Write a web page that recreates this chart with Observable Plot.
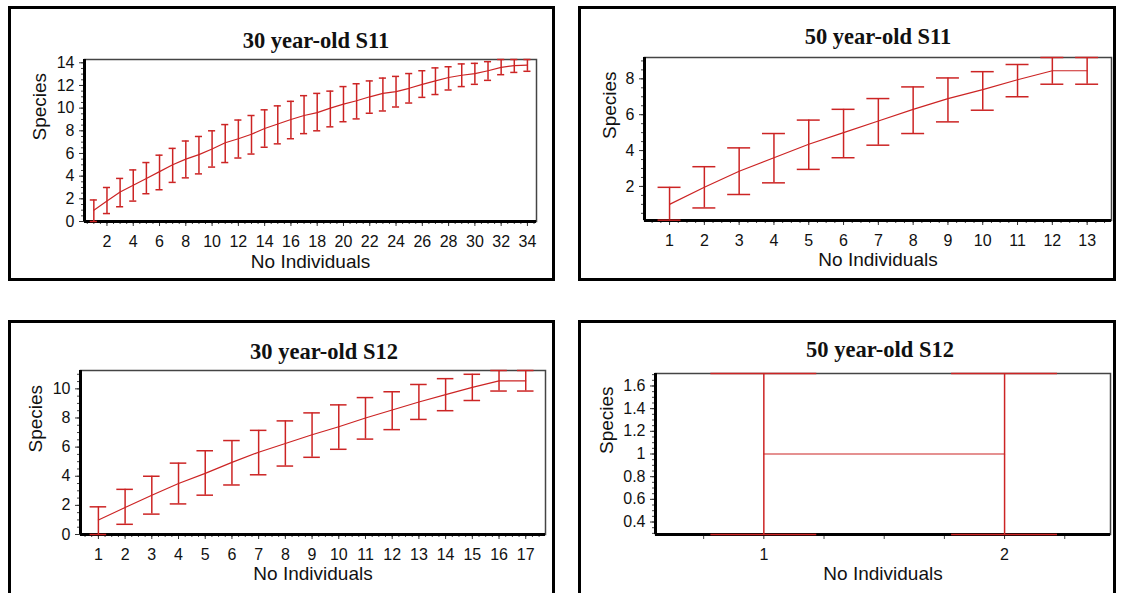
<!DOCTYPE html>
<html>
<head>
<meta charset="utf-8">
<script src="https://cdn.jsdelivr.net/npm/d3@7"></script>
<script src="https://cdn.jsdelivr.net/npm/@observablehq/plot@0.6"></script>
<style>
  html, body { margin: 0; padding: 0; background: #fff; }
  body { width: 1124px; height: 593px; overflow: hidden; position: relative; }
  .box { position: absolute; border: 3px solid #000; box-sizing: border-box; pointer-events: none; }
  .title { position: absolute; font-family: "Liberation Serif", "Times New Roman", serif; font-weight: bold;
           font-size: 22.5px; line-height: 1; color: #111; transform: translate(-50%, -50%); white-space: nowrap; }
  .plot { position: absolute; }
</style>
</head>
<body>
<script>
// ---------------- DATA ----------------
// Panel A: 30 year-old S11
const titleA = "30 year-old S11";
const nA = [1,2,3,4,5,6,7,8,9,10,11,12,13,14,15,16,17,18,19,20,21,22,23,24,25,26,27,28,29,30,31,32,33,34];
const meanA = [1.0,1.8,2.6,3.2,3.8,4.4,5.0,5.5,5.9,6.4,6.95,7.3,7.7,8.2,8.6,9.0,9.35,9.6,10.0,10.35,10.65,11.0,11.3,11.45,11.75,12.1,12.4,12.7,12.9,13.05,13.3,13.6,13.75,13.8];
const upperA = [1.9,3.0,3.8,4.55,5.2,5.85,6.45,7.1,7.5,8.0,8.55,8.95,9.35,9.85,10.2,10.6,11.1,11.3,11.5,11.9,12.15,12.4,12.65,12.8,13.05,13.3,13.55,13.65,13.9,13.95,14.1,14.29,14.29,14.29];
const lowerA = [0.0,0.7,1.3,1.8,2.45,2.8,3.45,3.85,4.2,4.8,5.2,5.6,5.95,6.55,6.85,7.3,7.75,8.0,8.35,8.8,9.05,9.55,9.75,10.1,10.45,10.95,11.2,11.6,11.9,12.1,12.45,12.95,13.15,13.25];
const xTicksA = [2,4,6,8,10,12,14,16,18,20,22,24,26,28,30,32,34];
const yTicksA = [0,2,4,6,8,10,12,14];

// Panel B: 50 year-old S11
const titleB = "50 year-old S11";
const nB = [1,2,3,4,5,6,7,8,9,10,11,12,13];
const meanB = [1.0,1.95,2.85,3.6,4.35,5.0,5.65,6.3,6.9,7.4,7.95,8.45,8.45];
const upperB = [1.95,3.1,4.15,4.95,5.7,6.3,6.9,7.55,8.05,8.4,8.8,9.19,9.19];
const lowerB = [0.12,0.8,1.55,2.2,2.95,3.6,4.3,4.95,5.6,6.25,7.0,7.7,7.7];
const xTicksB = [1,2,3,4,5,6,7,8,9,10,11,12,13];
const yTicksB = [2,4,6,8];

// Panel C: 30 year-old S12
const titleC = "30 year-old S12";
const nC = [1,2,3,4,5,6,7,8,9,10,11,12,13,14,15,16,17];
const meanC = [1.0,1.85,2.7,3.5,4.2,4.95,5.65,6.25,6.85,7.4,8.0,8.55,9.1,9.6,10.1,10.55,10.55];
const upperC = [1.9,3.1,4.0,4.9,5.75,6.45,7.15,7.8,8.35,8.9,9.4,9.8,10.3,10.7,11.0,11.26,11.26];
const lowerC = [0.0,0.7,1.4,2.1,2.7,3.4,4.1,4.7,5.3,5.85,6.55,7.2,7.9,8.5,9.2,9.85,9.85];
const xTicksC = [1,2,3,4,5,6,7,8,9,10,11,12,13,14,15,16,17];
const yTicksC = [0,2,4,6,8,10];

// Panel D: 50 year-old S12
const titleD = "50 year-old S12";
const nD = [1,2];
const meanD = [1,1];
const upperD = [1.71,1.71];
const lowerD = [0.29,0.29];
const xTicksD = [1,2];
const yTicksD = [0.4,0.6,0.8,1,1.2,1.4,1.6];

const xLabel = "No Individuals";
const yLabel = "Species";

// ---------------- DRAW ----------------
const RED = "#cc2424";
const FONT = "'Liberation Sans', Arial, sans-serif";

function rowsOf(n, mean, lower, upper) {
  return n.map((v, i) => ({n: v, mean: mean[i], lo: lower[i], hi: upper[i]}));
}

function panel(cfg) {
  const {box, frame, xDomain, yDomain, rows, cap, xMajor, xMinor, xMinorSize, yMajor, yMinor,
         xLabelDy, yLabelDx, title, titleX, titleY} = cfg;
  const width = box.r - box.l, height = box.b - box.t;
  const fmt = d => String(d);
  const chart = Plot.plot({
    width, height,
    marginLeft: frame.l - box.l,
    marginRight: box.r - frame.r,
    marginTop: frame.t - box.t,
    marginBottom: box.b - frame.b,
    x: {domain: xDomain},
    y: {domain: yDomain},
    style: {fontFamily: FONT, fontSize: "16px", color: "#111",
            background: "transparent", overflow: "visible"},
    marks: [
      Plot.axisX(xMinor, {tickSize: xMinorSize, fill: "none", stroke: "#444"}),
      Plot.axisX(xMajor, {tickSize: 5, tickPadding: 9, label: null, stroke: "#333",
                          fontSize: 16, fontFamily: FONT, fill: "#111", tickFormat: fmt}),
      Plot.axisY(yMinor, {tickSize: 3, fill: "none", stroke: "#444"}),
      Plot.axisY(yMajor, {tickSize: 5, tickPadding: 5, label: null, stroke: "#333",
                          fontSize: 16, fontFamily: FONT, fill: "#111", tickFormat: fmt}),
      Plot.frame({stroke: "#444", strokeWidth: 1.5}),
      Plot.ruleX([xDomain[0]], {stroke: "#000", strokeWidth: 3}),
      Plot.ruleY([yDomain[0]], {stroke: "#000", strokeWidth: 3}),
      Plot.line(rows, {x: "n", y: "mean", stroke: RED, strokeWidth: 1.2}),
      Plot.ruleX(rows, {x: "n", y1: "lo", y2: "hi", stroke: RED, strokeWidth: 1.5}),
      Plot.ruleY(rows, {y: "hi", x1: d => d.n - cap, x2: d => d.n + cap, stroke: RED, strokeWidth: 1.5}),
      Plot.ruleY(rows, {y: "lo", x1: d => d.n - cap, x2: d => d.n + cap, stroke: RED, strokeWidth: 1.5}),
      Plot.text([xLabel], {text: d => d, frameAnchor: "bottom", dy: xLabelDy, fontSize: 19, fontFamily: FONT, fill: "#111"}),
      Plot.text([yLabel], {text: d => d, frameAnchor: "left", rotate: -90, dx: yLabelDx, fontSize: 19, fontFamily: FONT, fill: "#111"})
    ]
  });
  chart.classList.add("plot");
  chart.style.left = box.l + "px";
  chart.style.top = box.t + "px";
  document.body.appendChild(chart);

  const b = document.createElement("div");
  b.className = "box";
  b.style.left = box.l + "px"; b.style.top = box.t + "px";
  b.style.width = width + "px"; b.style.height = height + "px";
  document.body.appendChild(b);

  const t = document.createElement("div");
  t.className = "title";
  t.textContent = title;
  t.style.left = titleX + "px"; t.style.top = titleY + "px";
  document.body.appendChild(t);
}

panel({
  title: titleA, titleX: 316, titleY: 41,
  box: {l: 8, t: 6, r: 555, b: 281},
  frame: {l: 84, t: 59, r: 536, b: 221},
  xDomain: [0.29, 34.69], yDomain: [0, 14.29],
  rows: rowsOf(nA, meanA, lowerA, upperA), cap: 0.27,
  xMajor: xTicksA, xMinor: d3.range(0.5, 34.7, 0.5), xMinorSize: 3,
  yMajor: yTicksA, yMinor: d3.range(0, 14.3, 0.5),
  xLabelDy: 46, yLabelDx: -45
});

panel({
  title: titleB, titleX: 878, titleY: 37,
  box: {l: 578, t: 6, r: 1116, b: 281},
  frame: {l: 644, t: 57, r: 1111, b: 220},
  xDomain: [0.28, 13.70], yDomain: [0.10, 9.19],
  rows: rowsOf(nB, meanB, lowerB, upperB), cap: 0.33,
  xMajor: xTicksB, xMinor: d3.range(0.5, 13.7, 0.25), xMinorSize: 3,
  yMajor: yTicksB, yMinor: d3.range(0.5, 9.2, 0.5),
  xLabelDy: 45, yLabelDx: -35
});

panel({
  title: titleC, titleX: 324, titleY: 352,
  box: {l: 8, t: 320, r: 555, b: 612},
  frame: {l: 80, t: 370, r: 545, b: 534},
  xDomain: [0.33, 17.74], yDomain: [0, 11.26],
  rows: rowsOf(nC, meanC, lowerC, upperC), cap: 0.31,
  xMajor: xTicksC, xMinor: d3.range(0.5, 17.7, 0.25), xMinorSize: 3,
  yMajor: yTicksC, yMinor: d3.range(0, 11.3, 0.5),
  xLabelDy: 45, yLabelDx: -45
});

panel({
  title: titleD, titleX: 880, titleY: 350,
  box: {l: 578, t: 320, r: 1116, b: 612},
  frame: {l: 655, t: 373, r: 1110, b: 534},
  xDomain: [0.55, 2.44], yDomain: [0.29, 1.71],
  rows: rowsOf(nD, meanD, lowerD, upperD), cap: 0.22,
  xMajor: xTicksD, xMinor: [0.75, 1.25, 1.5, 1.75, 2.25], xMinorSize: 5,
  yMajor: yTicksD, yMinor: d3.range(0.3, 1.71, 0.05),
  xLabelDy: 45, yLabelDx: -49
});
</script>
</body>
</html>
